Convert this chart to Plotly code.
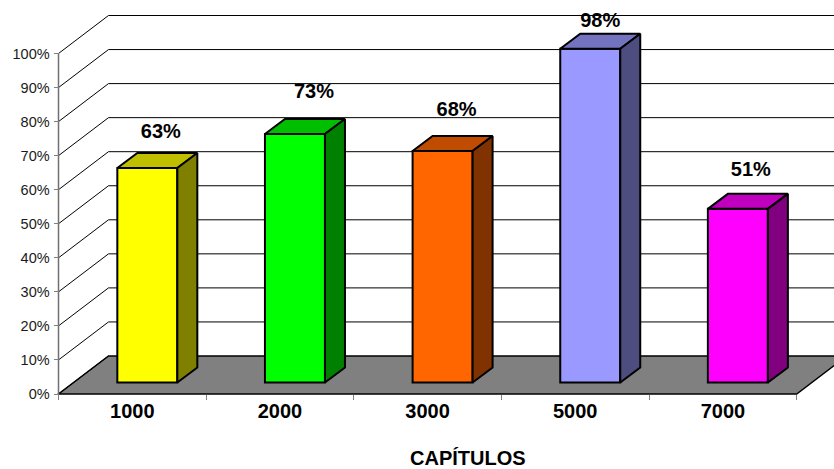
import plotly.graph_objects as go

# Chart data
categories = ["1000", "2000", "3000", "5000", "7000"]
values = [63, 73, 68, 98, 51]
y_ticks = [0, 10, 20, 30, 40, 50, 60, 70, 80, 90, 100]
y_tick_labels = [f"{v}%" for v in y_ticks]
front_colors = ["#FFFF00", "#00FF00", "#FF6600", "#9999FF", "#FF00FF"]
top_colors = ["#BFBF00", "#00BF00", "#BF4C00", "#7373BF", "#BF00BF"]
side_colors = ["#808000", "#008000", "#803300", "#4D4D80", "#800080"]

# Scale of the plot area, in pixels per axis unit
PX_X = 147.64
PX_Y = 3.405
WIDTH, HEIGHT = 834, 469

# The origin sits inside the plot area so lines drawn on it are not clipped
ORIGIN_X, ORIGIN_Y = 58.5, 394
LEFT, BOTTOM = 48, 60
PLOT_W, PLOT_H = WIDTH - LEFT, HEIGHT - BOTTOM
X_MIN = (LEFT - ORIGIN_X) / PX_X
X_MAX = (WIDTH - ORIGIN_X) / PX_X
Y_MIN = (ORIGIN_Y - (HEIGHT - BOTTOM)) / PX_Y
Y_MAX = ORIGIN_Y / PX_Y

# Oblique projection of the box: wall depth and bar depth, in axis units
WALL_DX, WALL_DY = 50 / PX_X, 38 / PX_Y
BAR_DX, BAR_DY = 20 / PX_X, 15 / PX_Y
BAR_WIDTH = 60 / PX_X
BAR_SHIFT_X, BAR_SHIFT_Y = 15 / PX_X, 11.5 / PX_Y
EDGE = 2

# Small per-bar placement of the value labels
LABEL_DX = [13.5, 19, 14, 10, 13]
LABEL_DY = [13.7, 15.5, 15.2, 11.3, 14.5]

fig = go.Figure()
shapes = []

# Floor of the box
n = len(categories)
floor_path = (
    f"M0,0 L{n},0 L{n + WALL_DX},{WALL_DY} L{WALL_DX},{WALL_DY} Z"
)
shapes.append(dict(type="path", path=floor_path, xref="x", yref="y", layer="below",
                   fillcolor="#808080", line=dict(color="#000000", width=1.5)))

# Gridlines: the diagonal on the side wall and the level on the back wall
for t in y_ticks:
    shapes.append(dict(type="line", xref="x", yref="y", layer="below",
                       x0=0, y0=t, x1=WALL_DX, y1=t + WALL_DY,
                       line=dict(color="#000000", width=1)))
    if t:
        shapes.append(dict(type="line", xref="x", yref="y", layer="below",
                           x0=WALL_DX, y0=t + WALL_DY, x1=X_MAX, y1=t + WALL_DY,
                           line=dict(color="#000000", width=1)))

# Value axis line stops at the top tick
fig.add_trace(go.Scatter(
    x=[0, 0], y=[0, 100], mode="lines", line=dict(color="#707070", width=1.5),
    hoverinfo="skip", showlegend=False,
))

# Front faces of the bars
centers = [i + 0.5 + BAR_SHIFT_X for i in range(n)]
fig.add_trace(go.Bar(
    x=centers, y=values, base=BAR_SHIFT_Y, width=BAR_WIDTH,
    marker=dict(color=front_colors, line=dict(color="#000000", width=EDGE)),
    hoverinfo="skip", showlegend=False,
))

# Top and side faces of the bars
for c, v, top, side in zip(centers, values, top_colors, side_colors):
    l, r = c - BAR_WIDTH / 2, c + BAR_WIDTH / 2
    b, h = BAR_SHIFT_Y, BAR_SHIFT_Y + v
    fig.add_trace(go.Scatter(
        x=[l, r, r + BAR_DX, l + BAR_DX, l],
        y=[h, h, h + BAR_DY, h + BAR_DY, h],
        mode="lines", fill="toself", fillcolor=top,
        line=dict(color="#000000", width=EDGE),
        hoverinfo="skip", showlegend=False,
    ))
    fig.add_trace(go.Scatter(
        x=[r, r + BAR_DX, r + BAR_DX, r, r],
        y=[b, b + BAR_DY, h + BAR_DY, h, b],
        mode="lines", fill="toself", fillcolor=side,
        line=dict(color="#000000", width=EDGE),
        hoverinfo="skip", showlegend=False,
    ))

# Value labels above the bars
fig.add_trace(go.Scatter(
    x=[c + d / PX_X for c, d in zip(centers, LABEL_DX)],
    y=[v + d for v, d in zip(values, LABEL_DY)],
    mode="text",
    text=[f"{v}%" for v in values],
    textposition="middle center",
    textfont=dict(family="Liberation Sans", size=20, color="#000000", weight="bold"),
    hoverinfo="skip", showlegend=False, cliponaxis=False,
))

fig.update_layout(
    width=WIDTH, height=HEIGHT,
    margin=dict(l=LEFT, r=0, t=0, b=BOTTOM, pad=0),
    paper_bgcolor="#FFFFFF", plot_bgcolor="#FFFFFF",
    font=dict(family="Liberation Sans", color="#000000"),
    shapes=shapes,
    xaxis=dict(
        range=[X_MIN, X_MAX], showgrid=False, zeroline=False, showline=False,
        anchor="free", position=(HEIGHT - BOTTOM - ORIGIN_Y) / PLOT_H,
        tickmode="array",
        tickvals=[i + 0.5 for i in range(n)], ticktext=categories,
        ticks="", ticklabelstandoff=3,
        tickfont=dict(family="Liberation Sans", size=20, color="#000000", weight="bold"),
        minor=dict(tickmode="array", tickvals=list(range(n + 1)), ticks="outside",
                   ticklen=5, tickwidth=1, tickcolor="#808080", showgrid=False),
    ),
    yaxis=dict(
        range=[Y_MIN, Y_MAX], showgrid=False, zeroline=False, showline=False,
        anchor="free", position=(ORIGIN_X - LEFT) / PLOT_W,
        tickmode="array", tickvals=y_ticks, ticktext=y_tick_labels,
        ticks="outside", ticklen=5, tickwidth=1, tickcolor="#808080",
        ticklabelstandoff=1,
        tickfont=dict(family="Liberation Sans", size=14.5, color="#1a1a1a"),
    ),
    annotations=[dict(
        text="<b>CAPÍTULOS</b>", xref="paper", yref="paper", showarrow=False,
        x=(467.5 - LEFT) / PLOT_W, y=(HEIGHT - BOTTOM - 458) / PLOT_H,
        xanchor="center", yanchor="middle",
        font=dict(family="Liberation Sans", size=20, color="#000000"),
    )],
)

fig.write_html("out.html")
